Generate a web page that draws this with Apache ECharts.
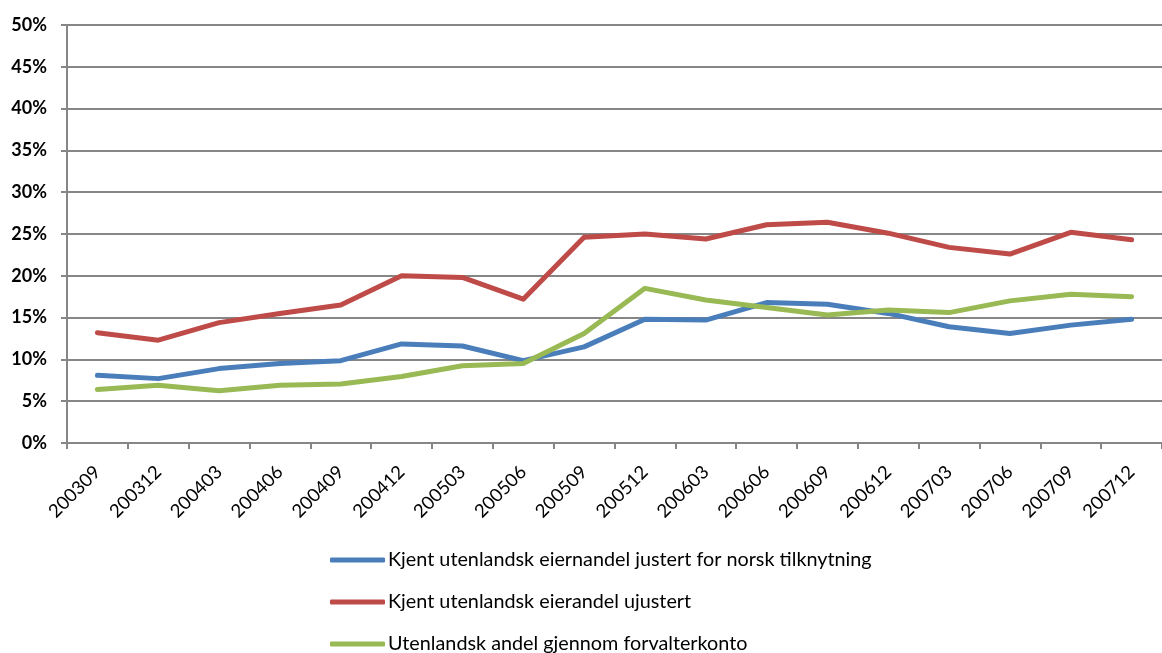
<!DOCTYPE html>
<html>
<head>
<meta charset="utf-8">
<script src="https://cdn.jsdelivr.net/npm/echarts@6/dist/echarts.min.js"></script>
<style>
html,body{margin:0;padding:0;background:#fff;}
#chart{width:1162px;height:653px;}
</style>
</head>
<body>
<div id="chart"></div>
<script>
const categories = ['200309','200312','200403','200406','200409','200412','200503','200506','200509','200512','200603','200606','200609','200612','200703','200706','200709','200712'];
const seriesNames = ['Kjent utenlandsk eiernandel justert for norsk tilknytning','Kjent utenlandsk eierandel ujustert','Utenlandsk andel gjennom forvalterkonto'];
const adjusted = [8.1, 7.7, 8.9, 9.5, 9.85, 11.85, 11.6, 9.85, 11.5, 14.8, 14.7, 16.8, 16.6, 15.5, 13.9, 13.1, 14.1, 14.8];
const unadjusted = [13.2, 12.3, 14.4, 15.5, 16.5, 20.0, 19.8, 17.2, 24.6, 25.0, 24.4, 26.1, 26.4, 25.1, 23.4, 22.6, 25.2, 24.3];
const nominee = [6.4, 6.9, 6.25, 6.9, 7.05, 7.95, 9.25, 9.5, 13.1, 18.5, 17.1, 16.2, 15.3, 15.9, 15.6, 17.0, 17.8, 17.5];
const yTicks = [0, 5, 10, 15, 20, 25, 30, 35, 40, 45, 50];

const colors = ['#4A7EBB', '#BE4B48', '#98B954'];
const font = 'Lato, "Open Sans", sans-serif';
const chart = echarts.init(document.getElementById('chart'));
const mk = (name, data, c) => ({
  name, type: 'line', data, symbol: 'none', smooth: false,
  lineStyle: { color: c, width: 5, cap: 'round', join: 'round' },
  itemStyle: { color: c },
  emphasis: { disabled: true }
});
chart.setOption({
  animation: false,
  color: colors,
  grid: { left: 67, top: 25, width: 1107, height: 418 },
  legend: {
    orient: 'vertical', left: 330, top: 549, height: 110, padding: 0,
    itemWidth: 55, itemHeight: 5, itemGap: 20,
    icon: 'roundRect',
    textStyle: { fontFamily: font, fontSize: 19.8, color: '#000', lineHeight: 22, padding: [0,0,0,-2] },
    data: seriesNames
  },
  xAxis: {
    type: 'category', data: categories, boundaryGap: true,
    axisLine: { lineStyle: { color: '#868686', width: 2 } },
    axisTick: { show: true, length: 6, lineStyle: { color: '#868686', width: 2 } },
    axisLabel: { rotate: 45, fontFamily: font, fontSize: 18.5, color: '#000', margin: 26, interval: 0 }
  },
  yAxis: {
    type: 'value', min: 0, max: 50, interval: 5,
    axisLine: { show: true, lineStyle: { color: '#868686', width: 2 } },
    axisTick: { show: true, length: 6, lineStyle: { color: '#868686', width: 2 } },
    splitLine: { lineStyle: { color: '#868686', width: 2 } },
    axisLabel: {
      fontFamily: font, fontSize: 18, fontWeight: 'bold', color: '#000', margin: 20,
      formatter: v => yTicks.includes(v) ? v + '%' : ''
    }
  },
  series: [mk(seriesNames[0], adjusted, colors[0]), mk(seriesNames[1], unadjusted, colors[1]), mk(seriesNames[2], nominee, colors[2])]
});
</script>
</body>
</html>
